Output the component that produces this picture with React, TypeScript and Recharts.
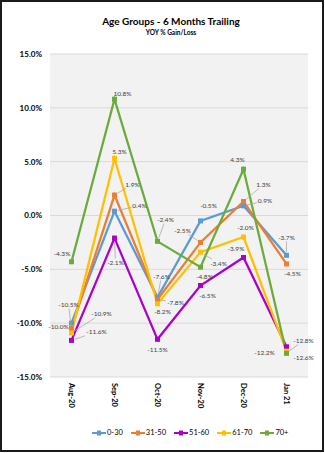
import { CartesianGrid, LabelList, Legend, Line, LineChart, XAxis, YAxis } from "recharts";

const CATEGORIES = ["Aug-20", "Sep-20", "Oct-20", "Nov-20", "Dec-20", "Jan 21"];
const AGE_0_30 = [-10.0, 0.4, -7.6, -0.5, 0.9, -3.7];
const AGE_31_50 = [-10.5, 1.9, -7.8, -2.5, 1.3, -4.5];
const AGE_51_60 = [-11.6, -2.1, -11.5, -6.5, -3.9, -12.2];
const AGE_61_70 = [-10.9, 5.3, -8.2, -3.4, -2.0, -12.6];
const AGE_70_PLUS = [-4.3, 10.8, -2.4, -4.8, 4.3, -12.8];
const Y_TICKS = [15, 10, 5, 0, -5, -10, -15];

const FONT = "Lato, 'Open Sans', sans-serif";

// label placement per point: [dx, dy, leader line]
type Offset = [number, number, boolean];
const OFFSETS: Record<string, Offset[]> = {
  a0: [[-13, 3, false], [25, -5.6, true], [4, -21, true], [8, -15.5, false], [21.5, -5, true], [0, -18, true]],
  a31: [[-3, -24, true], [18, -11, true], [18, 3, true], [-18, -12, true], [20, -17, true], [6, 9.5, false]],
  a51: [[25, -8.4, true], [1, 24.5, true], [0, 10, false], [7, 10, false], [-7.5, -9, false], [-22, 6, false]],
  a61: [[30, -19, true], [5, -7, false], [5, 8, false], [18, 11, true], [2, -10, false], [17, 6, false]],
  a70: [[-9.5, -8.6, false], [8, -6, false], [8, -21.6, true], [4, 9, false], [-6, -10, false], [17, -13, true]]
};

const SERIES = [
  { key: "a0", name: "0-30", color: "#5B9BD5" },
  { key: "a31", name: "31-50", color: "#ED7D31" },
  { key: "a51", name: "51-60", color: "#AA00C8" },
  { key: "a61", name: "61-70", color: "#FFC000" },
  { key: "a70", name: "70+", color: "#6AAB3C" }
];

const rows = CATEGORIES.map((month, i) => ({
  month,
  a0: AGE_0_30[i],
  a31: AGE_31_50[i],
  a51: AGE_51_60[i],
  a61: AGE_61_70[i],
  a70: AGE_70_PLUS[i]
}));

function makeLabel(key: string) {
  return (props: any) => {
    const { x, y, value, index } = props;
    const [dx, dy, leader] = OFFSETS[key][index];
    const text = `${Number(value).toFixed(1)}%`;
    const lx = x + dx;
    const ly = y + dy;
    let line = null;
    if (leader) {
      const vx = x - lx;
      const vy = y - ly;
      const hw = text.length * 1.75 + 1;
      const hh = 4;
      const t = Math.min(vx !== 0 ? hw / Math.abs(vx) : 99, vy !== 0 ? hh / Math.abs(vy) : 99);
      const len = Math.hypot(vx, vy);
      line = (
        <line
          x1={lx + vx * t}
          y1={ly + vy * t}
          x2={x - (vx / len) * 3.5}
          y2={y - (vy / len) * 3.5}
          stroke="#A6A6A6"
          strokeWidth={0.75}
        />
      );
    }
    return (
      <g>
        {line}
        <text x={lx} y={ly} textAnchor="middle" dominantBaseline="central" fontSize={6.5} fill="#404040" fontFamily={FONT}>
          {text}
        </text>
      </g>
    );
  };
}

function squareDot(color: string) {
  return (props: any) => {
    const { cx, cy, index } = props;
    return <rect key={index} x={cx - 2.5} y={cy - 2.5} width={5} height={5} fill={color} />;
  };
}

function MonthTick(props: any) {
  const { x, y, payload } = props;
  const ty = y - 2;
  return (
    <text
      x={x}
      y={ty}
      transform={`rotate(90 ${x} ${ty})`}
      textAnchor="start"
      dominantBaseline="central"
      fontSize={7.5}
      fontWeight="bold"
      fill="#000"
      fontFamily={FONT}
    >
      {payload.value}
    </text>
  );
}

function LegendRow() {
  return (
    <div style={{ display: "flex", alignItems: "center", fontFamily: FONT, fontSize: 7.5, color: "#000", whiteSpace: "nowrap" }}>
      {SERIES.map((s) => (
        <div key={s.key} style={{ display: "flex", alignItems: "center", marginRight: 8 }}>
          <svg width={14} height={6} style={{ marginRight: 1 }}>
            <line x1={0} y1={3} x2={14} y2={3} stroke={s.color} strokeWidth={2} />
            <rect x={5} y={0.5} width={4} height={5} fill={s.color} />
          </svg>
          <span>{s.name}</span>
        </div>
      ))}
    </div>
  );
}

export default function App() {
  return (
    <div
      style={{
        position: "absolute",
        left: 0,
        top: 0,
        width: 324,
        height: 452,
        boxSizing: "border-box",
        border: "2px solid #1a1a1a",
        background: "#fff"
      }}
    >
      <div style={{ position: "absolute", left: -2, top: -2, width: 325, height: 453 }}>
        <div
          style={{
            position: "absolute",
            top: 15,
            left: 71,
            width: 200,
            textAlign: "center",
            fontFamily: FONT,
            fontWeight: "bold",
            fontSize: 10,
            color: "#000"
          }}
        >
          Age Groups - 6 Months Trailing
        </div>
        <div
          style={{
            position: "absolute",
            top: 29,
            left: 71,
            width: 200,
            textAlign: "center",
            fontFamily: FONT,
            fontWeight: "bold",
            fontSize: 6.5,
            color: "#000"
          }}
        >
          YOY % Gain/Loss
        </div>
        <div style={{ position: "absolute", left: 0, top: 0 }}>
          <LineChart width={325} height={453} data={rows} margin={{ top: 54, right: 17, bottom: 0, left: 0 }}>
            <CartesianGrid vertical={false} stroke="#D9D9D9" fill="#F2F2F2" />
            <XAxis
              dataKey="month"
              axisLine={false}
              tickLine={false}
              height={67}
              interval={0}
              padding={{ left: 21.5, right: 21.5 }}
              tick={<MonthTick />}
            />
            <YAxis
              domain={[-15, 15]}
              ticks={Y_TICKS}
              width={50}
              axisLine={false}
              tickLine={false}
              tickFormatter={(v: number) => `${v.toFixed(1)}%`}
              tick={{ fontSize: 8, fontWeight: "bold", fill: "#000", fontFamily: FONT }}
            />
            <Legend
              content={<LegendRow />}
              wrapperStyle={{ position: "absolute", left: 92, top: 428, width: 220 }}
            />
            {SERIES.map((s) => (
              <Line
                key={s.key}
                type="linear"
                dataKey={s.key}
                name={s.name}
                stroke={s.color}
                strokeWidth={2.25}
                dot={squareDot(s.color)}
                activeDot={false}
                isAnimationActive={false}
              >
                <LabelList dataKey={s.key} content={makeLabel(s.key)} />
              </Line>
            ))}
          </LineChart>
        </div>
      </div>
    </div>
  );
}
